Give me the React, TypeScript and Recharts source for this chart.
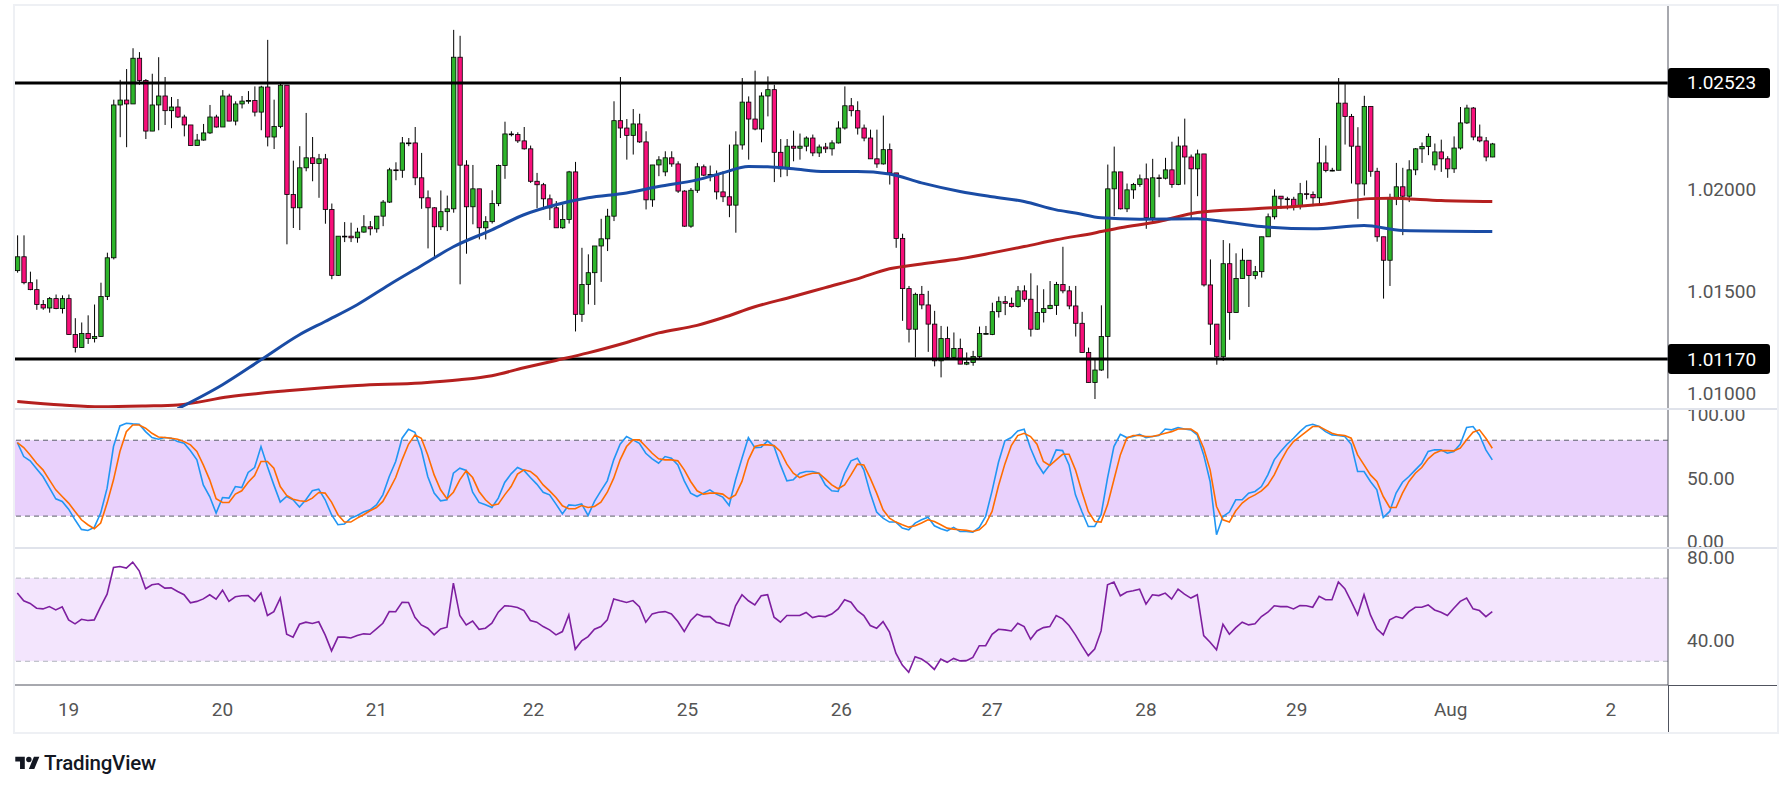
import React from 'react'
import {
  ComposedChart,
  Bar,
  Line,
  XAxis,
  YAxis,
  ReferenceLine,
  ReferenceArea,
} from 'recharts'

// hourly candles, [open, high, low, close]
const OHLC: [number, number, number, number][] = [
  [1.01603, 1.01776, 1.01593, 1.01671], [1.01671, 1.01776, 1.01536, 1.01544], [1.01544, 1.01598, 1.01507, 1.0151],
  [1.0151, 1.0156, 1.01411, 1.01437], [1.01437, 1.01459, 1.01411, 1.0142], [1.0142, 1.01474, 1.01397, 1.01466],
  [1.01466, 1.01486, 1.01414, 1.01417], [1.01417, 1.01482, 1.01393, 1.01466], [1.01466, 1.01486, 1.0129, 1.0129],
  [1.0129, 1.0137, 1.01202, 1.01226], [1.01226, 1.01349, 1.01225, 1.01295], [1.01295, 1.01384, 1.01244, 1.0127],
  [1.0127, 1.01437, 1.01251, 1.0128], [1.0128, 1.01544, 1.0128, 1.01476], [1.01476, 1.01691, 1.01459, 1.01666],
  [1.01666, 1.02441, 1.01658, 1.02415], [1.02415, 1.02538, 1.02257, 1.02439], [1.02439, 1.02591, 1.02208, 1.0242],
  [1.0242, 1.02693, 1.0242, 1.02644], [1.02644, 1.02674, 1.02514, 1.02535], [1.02535, 1.02542, 1.02248, 1.02287],
  [1.02287, 1.02568, 1.02287, 1.02415], [1.02415, 1.02649, 1.02291, 1.02459], [1.02459, 1.02552, 1.02317, 1.02387],
  [1.02387, 1.02454, 1.02301, 1.02405], [1.02405, 1.02444, 1.02351, 1.02356], [1.02356, 1.02367, 1.02261, 1.02317],
  [1.02317, 1.02317, 1.02216, 1.02216], [1.02216, 1.02273, 1.02216, 1.02243], [1.02243, 1.02322, 1.0224, 1.02278],
  [1.02278, 1.02415, 1.02273, 1.02356], [1.02356, 1.02367, 1.02304, 1.02307], [1.02307, 1.02488, 1.02307, 1.02459],
  [1.02459, 1.0247, 1.02336, 1.02336], [1.02336, 1.02433, 1.02315, 1.0242], [1.0242, 1.02459, 1.02398, 1.02434],
  [1.02434, 1.02483, 1.02421, 1.02437], [1.02437, 1.02506, 1.02359, 1.0238], [1.0238, 1.02509, 1.02291, 1.02503],
  [1.02503, 1.02734, 1.02212, 1.02258], [1.02258, 1.02441, 1.02199, 1.0231], [1.0231, 1.02522, 1.02301, 1.02512],
  [1.02512, 1.02512, 1.01732, 1.01976], [1.01976, 1.02142, 1.01812, 1.01911], [1.01911, 1.02213, 1.01802, 1.02107],
  [1.02107, 1.02376, 1.0209, 1.02156], [1.02156, 1.02258, 1.02041, 1.02128], [1.02128, 1.02175, 1.0196, 1.02151],
  [1.02151, 1.02175, 1.01833, 1.01903], [1.01903, 1.01932, 1.01561, 1.0158], [1.0158, 1.01772, 1.01577, 1.01772],
  [1.01772, 1.01841, 1.01743, 1.01772], [1.01772, 1.01838, 1.01743, 1.01764], [1.01764, 1.01813, 1.0174, 1.01792],
  [1.01792, 1.01875, 1.01789, 1.01818], [1.01818, 1.01846, 1.01776, 1.01808], [1.01808, 1.0187, 1.01789, 1.0187],
  [1.0187, 1.01949, 1.01821, 1.01939], [1.01939, 1.02107, 1.01935, 1.02097], [1.02097, 1.02134, 1.02046, 1.02095],
  [1.02095, 1.02258, 1.02058, 1.02229], [1.02229, 1.02253, 1.02213, 1.02229], [1.02229, 1.02307, 1.02022, 1.02058],
  [1.02058, 1.0218, 1.01906, 1.0196], [1.0196, 1.01996, 1.01712, 1.01911], [1.01911, 1.01914, 1.01667, 1.01818],
  [1.01818, 1.01996, 1.01802, 1.01892], [1.01892, 1.01971, 1.01797, 1.01906], [1.01906, 1.02783, 1.01887, 1.02649],
  [1.02649, 1.02754, 1.01536, 1.0212], [1.0212, 1.02144, 1.01686, 1.01916], [1.01916, 1.02121, 1.0183, 1.02004],
  [1.02004, 1.02004, 1.01756, 1.01813], [1.01813, 1.0187, 1.01756, 1.01843], [1.01843, 1.01997, 1.01834, 1.01932],
  [1.01932, 1.02123, 1.01919, 1.02118], [1.02118, 1.02333, 1.02053, 1.02273], [1.02273, 1.02286, 1.02261, 1.0227],
  [1.0227, 1.02281, 1.02229, 1.02239], [1.02239, 1.02307, 1.02196, 1.022], [1.022, 1.02216, 1.02033, 1.02041],
  [1.02041, 1.02082, 1.01909, 1.02024], [1.02024, 1.02033, 1.01903, 1.01955], [1.01955, 1.01976, 1.01851, 1.01911],
  [1.01911, 1.01944, 1.01813, 1.01813], [1.01813, 1.01927, 1.01808, 1.01854], [1.01854, 1.02092, 1.01834, 1.02087],
  [1.02087, 1.02136, 1.01305, 1.01389], [1.01389, 1.01715, 1.01352, 1.01535], [1.01535, 1.01683, 1.01438, 1.01593],
  [1.01593, 1.01724, 1.01435, 1.01724], [1.01724, 1.01857, 1.01548, 1.01759], [1.01759, 1.01906, 1.01699, 1.0187],
  [1.0187, 1.02433, 1.01846, 1.02338], [1.02338, 1.02552, 1.02253, 1.02302], [1.02302, 1.02346, 1.02147, 1.02266],
  [1.02266, 1.02395, 1.02172, 1.02322], [1.02322, 1.02372, 1.02229, 1.02234], [1.02234, 1.02286, 1.01903, 1.0195],
  [1.0195, 1.02121, 1.01916, 1.02121], [1.02121, 1.02164, 1.02066, 1.02146], [1.02087, 1.02188, 1.02066, 1.02156],
  [1.02156, 1.02188, 1.02112, 1.02126], [1.02126, 1.02139, 1.01984, 1.01993], [1.01993, 1.01997, 1.01818, 1.01821],
  [1.01821, 1.02008, 1.01813, 1.01997], [1.01997, 1.02131, 1.01984, 1.02112], [1.02112, 1.02123, 1.02066, 1.02071],
  [1.02071, 1.02118, 1.02041, 1.02074], [1.02074, 1.02094, 1.01952, 1.01989], [1.01989, 1.0209, 1.01939, 1.01965],
  [1.01965, 1.02221, 1.01865, 1.01924], [1.01924, 1.02286, 1.01789, 1.02219], [1.02219, 1.02547, 1.02196, 1.02429],
  [1.02429, 1.02457, 1.02147, 1.02346], [1.02346, 1.02583, 1.02291, 1.02297], [1.02297, 1.02477, 1.02232, 1.02459],
  [1.02459, 1.02555, 1.02359, 1.0249], [1.0249, 1.02514, 1.02037, 1.02183], [1.02183, 1.02248, 1.02061, 1.02102],
  [1.02102, 1.02248, 1.02066, 1.02213], [1.02213, 1.02289, 1.02139, 1.02203], [1.02203, 1.02275, 1.02147, 1.02213],
  [1.02213, 1.02261, 1.02188, 1.02253], [1.02253, 1.0227, 1.02164, 1.0218], [1.0218, 1.02221, 1.0216, 1.02209],
  [1.02209, 1.02229, 1.0218, 1.022], [1.022, 1.02242, 1.02167, 1.02229], [1.02229, 1.02335, 1.02226, 1.02302],
  [1.02302, 1.02506, 1.02294, 1.02411], [1.02411, 1.02449, 1.02359, 1.02387], [1.02387, 1.02433, 1.0227, 1.02302],
  [1.02302, 1.02319, 1.02237, 1.02253], [1.02253, 1.02294, 1.02151, 1.02151], [1.02151, 1.02294, 1.02107, 1.02126],
  [1.02126, 1.02363, 1.02123, 1.02196], [1.02196, 1.02226, 1.02025, 1.02082], [1.02082, 1.02082, 1.01715, 1.01761],
  [1.01761, 1.01784, 1.01357, 1.01515], [1.01515, 1.01528, 1.01251, 1.01316], [1.01316, 1.01495, 1.01178, 1.01487],
  [1.01487, 1.01528, 1.01414, 1.01435], [1.01435, 1.01504, 1.01205, 1.01341], [1.01341, 1.01406, 1.01134, 1.01161],
  [1.01161, 1.01332, 1.0108, 1.0127], [1.0127, 1.01329, 1.01173, 1.01178], [1.01178, 1.013, 1.01173, 1.01222],
  [1.01222, 1.0127, 1.01145, 1.01145], [1.01145, 1.01202, 1.0114, 1.01153], [1.01153, 1.0121, 1.01137, 1.01182],
  [1.01182, 1.01329, 1.01173, 1.01295], [1.01295, 1.01332, 1.0129, 1.01295], [1.0129, 1.01446, 1.01287, 1.01402],
  [1.01402, 1.01476, 1.01373, 1.01451], [1.01451, 1.01479, 1.01385, 1.01443], [1.01443, 1.01471, 1.01422, 1.01427],
  [1.01427, 1.01528, 1.01422, 1.01504], [1.01504, 1.01531, 1.0145, 1.01463], [1.01463, 1.0159, 1.0128, 1.01316],
  [1.01316, 1.01531, 1.01313, 1.01398], [1.01398, 1.01512, 1.01349, 1.01417], [1.01417, 1.01552, 1.01414, 1.01433],
  [1.01433, 1.01548, 1.01386, 1.01535], [1.01535, 1.0172, 1.01492, 1.01504], [1.01504, 1.01528, 1.01414, 1.0143],
  [1.0143, 1.01528, 1.0128, 1.01345], [1.01345, 1.01401, 1.01202, 1.01202], [1.01202, 1.01226, 1.01055, 1.01055],
  [1.01055, 1.01166, 1.00974, 1.01116], [1.01116, 1.01433, 1.01112, 1.0128], [1.0128, 1.02123, 1.01075, 1.02004],
  [1.02004, 1.02211, 1.0187, 1.02087], [1.02087, 1.02087, 1.01903, 1.01906], [1.01906, 1.0203, 1.0189, 1.01999],
  [1.01999, 1.02033, 1.01955, 1.02025], [1.02025, 1.02074, 1.02014, 1.02053], [1.02053, 1.02128, 1.01808, 1.01862],
  [1.01862, 1.02151, 1.01838, 1.02058], [1.02058, 1.02074, 1.01963, 1.02056], [1.02056, 1.02156, 1.0205, 1.02097],
  [1.02097, 1.02235, 1.02009, 1.02025], [1.02025, 1.0226, 1.02022, 1.02214], [1.02214, 1.02348, 1.02025, 1.0216],
  [1.0216, 1.02172, 1.01857, 1.02102], [1.02102, 1.02196, 1.01968, 1.02175], [1.02175, 1.02175, 1.01525, 1.01533],
  [1.01533, 1.01658, 1.01239, 1.01341], [1.01341, 1.01341, 1.01142, 1.01181], [1.01181, 1.01753, 1.01161, 1.01637],
  [1.01637, 1.01737, 1.01264, 1.01398], [1.01398, 1.01688, 1.01398, 1.01565], [1.01565, 1.01711, 1.01564, 1.01654],
  [1.01654, 1.01654, 1.01425, 1.01579], [1.01579, 1.01626, 1.01561, 1.01598], [1.01598, 1.01769, 1.01569, 1.01769],
  [1.01769, 1.01883, 1.01769, 1.01867], [1.01867, 1.02001, 1.01854, 1.01968], [1.01968, 1.01968, 1.01906, 1.01955],
  [1.01955, 1.01965, 1.01903, 1.01953], [1.01953, 1.01965, 1.01898, 1.01918], [1.01918, 1.02033, 1.01903, 1.0198],
  [1.0198, 1.02045, 1.01952, 1.01976], [1.01976, 1.01991, 1.01919, 1.0196], [1.0196, 1.02253, 1.01922, 1.02131],
  [1.02131, 1.02216, 1.02085, 1.02094], [1.02094, 1.02107, 1.0209, 1.02095], [1.02095, 1.02547, 1.02095, 1.02424],
  [1.02424, 1.02517, 1.02221, 1.02359], [1.02359, 1.02371, 1.0203, 1.02213], [1.02213, 1.02306, 1.01857, 1.02028],
  [1.02028, 1.0246, 1.01971, 1.02408], [1.02408, 1.02408, 1.02063, 1.0209], [1.0209, 1.02107, 1.01745, 1.01769],
  [1.01769, 1.01769, 1.01466, 1.01654], [1.01654, 1.0198, 1.01528, 1.01955], [1.01955, 1.02131, 1.01924, 1.02014],
  [1.02014, 1.02107, 1.01777, 1.01968], [1.01968, 1.02144, 1.01939, 1.02097], [1.02097, 1.02204, 1.02071, 1.022],
  [1.022, 1.02231, 1.02131, 1.02211], [1.02211, 1.02275, 1.02169, 1.02261], [1.02121, 1.02226, 1.02095, 1.02185],
  [1.02185, 1.02245, 1.02087, 1.02151], [1.02151, 1.02164, 1.02058, 1.02102], [1.02102, 1.02261, 1.02082, 1.02204],
  [1.02204, 1.02405, 1.02196, 1.02327], [1.02327, 1.02416, 1.02322, 1.024], [1.024, 1.02405, 1.02242, 1.02258],
  [1.02258, 1.02319, 1.02232, 1.02239], [1.02239, 1.02258, 1.02139, 1.0216], [1.0216, 1.02229, 1.02159, 1.02224],
]

// moving averages, read as [candle index, value]
const MA_BLUE: [number, number][] = [
  [25, 1.00926], [32, 1.01044], [38, 1.01166], [44, 1.01289], [48, 1.01354], [53, 1.01436], [58, 1.01534],
  [63, 1.01627], [68, 1.0172], [74, 1.01803], [79, 1.01877], [84, 1.01926], [89, 1.0196], [95, 1.01984],
  [100, 1.02015], [106, 1.02048], [110, 1.02082], [114, 1.02113], [117, 1.02112], [121, 1.02102], [126, 1.02089],
  [131, 1.02089], [136, 1.02077], [141, 1.02033], [147, 1.01991], [152, 1.01965], [157, 1.01942], [162, 1.01901],
  [165, 1.01886], [169, 1.01862], [175, 1.01855], [184, 1.01857], [188, 1.01844], [194, 1.01819], [202, 1.01808],
  [210, 1.01824], [216, 1.018], [230, 1.01795],
]
const MA_RED: [number, number][] = [
  [0, 1.00962], [7, 1.00945], [13, 1.00936], [20, 1.0094], [25, 1.00945], [33, 1.00985], [42, 1.01014],
  [53, 1.0104], [63, 1.01053], [69, 1.01068], [74, 1.01088], [79, 1.01127], [84, 1.01163], [89, 1.012],
  [95, 1.01251], [100, 1.01298], [106, 1.01335], [110, 1.01372], [115, 1.01426], [121, 1.01476], [126, 1.0152],
  [131, 1.01563], [136, 1.01612], [141, 1.01636], [147, 1.01661], [152, 1.0169], [157, 1.01721], [162, 1.01754],
  [168, 1.01788], [172, 1.01813], [178, 1.01844], [184, 1.01888], [193, 1.01906], [204, 1.0193], [211, 1.01956],
  [214, 1.01958], [222, 1.01947], [230, 1.01942],
]

const STOCH_K = [
  78.2, 67.1, 63.7, 57.4, 51.3, 42.6, 33.7, 31.6, 25.5, 17.1, 9.5, 8.7, 11.1, 22.4, 42.1, 75, 91.3, 93.4, 92.9, 92.6,
  86.8, 82.1, 80.8, 82.1, 81.6, 78.9, 77.6, 71.6, 64.5, 44.7, 35.5, 22.4, 34.7, 34.2, 43.4, 42.6, 54.5, 58.4, 75, 59.2,
  44.7, 31.1, 35.5, 32.9, 27.1, 32.9, 40, 41.3, 32.9, 21.1, 13.2, 13.7, 18.4, 20.5, 23.2, 25, 28.9, 36.8, 51.3, 63.2,
  81.6, 88.7, 86.3, 72.4, 51.3, 38.2, 32.1, 32.9, 53.9, 57.9, 56.1, 38.9, 30.8, 28.9, 26.8, 34.2, 46.6, 53.4, 58.4, 56.1,
  50.5, 45.3, 38.9, 36.8, 29.5, 21.8, 28.9, 28.4, 29.7, 20.5, 31.6, 40, 47.9, 64.5, 76.8, 82.9, 80.3, 77.6, 69.7, 65.3,
  61.8, 67.1, 65.8, 60.5, 47.9, 38.2, 35.5, 38.2, 40.8, 37.4, 35, 28.4, 48.7, 65.8, 82.1, 74.2, 74.5, 79.5, 75, 60.5,
  47.9, 48.7, 53.9, 55.3, 55.3, 53.9, 44.7, 40, 39.5, 53.9, 63.7, 65.8, 56.6, 38.2, 23.2, 18.4, 15.3, 15.3, 10.5, 9.2,
  14.5, 17.1, 19.2, 12.4, 10, 8.4, 11.1, 7.9, 7.9, 7.4, 11.1, 19.7, 40, 62.6, 79.5, 82.1, 87.4, 88.7, 73.7, 61.8,
  53.9, 60.5, 72.4, 71.8, 60.5, 36.8, 23.7, 11.8, 11.8, 21.1, 50, 75, 84.7, 82.1, 82.9, 84.7, 82.1, 82.9, 83.7, 88.9,
  88.2, 90, 88.9, 88.2, 84.2, 68.4, 47.4, 5.3, 19.7, 23.2, 32.9, 32.9, 38.2, 39.5, 43.4, 52.6, 64.5, 71.1, 76.8, 81.6,
  86.8, 91.3, 92.6, 90.8, 86.8, 84.2, 83.7, 82.9, 76.8, 55.3, 55.3, 47.4, 40.8, 18.9, 23.7, 38.2, 46.8, 51.3, 56.6, 61.8,
  71.1, 72.4, 72.4, 69.7, 71.1, 76.8, 90, 90.8, 84.2, 72.4, 64.5,
]
const STOCH_D = [
  78.2, 74.2, 68.4, 61.8, 56.6, 48.7, 40.8, 35.5, 30.3, 23.7, 17.1, 13.2, 10, 14.5, 30.3, 48.7, 71.1, 86.8, 92.1, 92.1,
  89.5, 85.5, 82.6, 82.1, 81.6, 80.8, 78.9, 76.3, 71.1, 60.5, 48.7, 33.7, 30.8, 30.8, 37.4, 40, 46.8, 52.1, 63.2, 63.2,
  57.9, 43.4, 36.3, 33.4, 32.1, 31.6, 34.2, 38.7, 38.2, 31.1, 21.1, 15.3, 15.3, 18.4, 21.1, 24.2, 26.8, 31.6, 40.8, 50.5,
  64.5, 76.8, 84.2, 81.6, 68.4, 52.6, 40.8, 33.7, 38.9, 48.7, 55.8, 50.5, 39.5, 32.9, 28.4, 29.5, 36.8, 43.4, 53.2, 56.6,
  55.3, 51.3, 44.7, 40, 34.7, 28.2, 25.8, 25.8, 28.4, 26.8, 27.6, 31.1, 38.9, 50, 64.5, 75, 80.3, 80.3, 75, 69.7,
  65.3, 64.5, 64.5, 63.7, 56.6, 47.4, 40, 37.4, 38.2, 38.2, 37.4, 33.7, 36.8, 47.4, 64.5, 75, 76.3, 76.3, 75.8, 71.1,
  61.1, 53.9, 50.5, 52.6, 53.9, 53.9, 49.5, 44.7, 41.6, 44.7, 52.6, 61.1, 60.5, 50, 38.2, 25, 18.4, 15.3, 13.2, 11.3,
  12.4, 14.5, 17.1, 15.8, 13.2, 10.5, 9.7, 9.2, 8.7, 7.9, 9.2, 13.7, 23.7, 44, 61.3, 75.8, 83.7, 85.5, 82.9, 76.8,
  63.2, 60, 64.5, 68.9, 68.9, 56.6, 39.5, 23.7, 15.8, 15.3, 28.9, 48.7, 68.4, 81.6, 83.7, 83.7, 82.9, 82.9, 84.2, 85.5,
  86.8, 88.9, 88.9, 88.9, 85.5, 73.7, 56.6, 27.6, 17.1, 15.3, 24.2, 30.3, 34.2, 36.8, 40, 44.7, 52.6, 63.2, 72.4, 79,
  82.9, 86.8, 90.8, 90.8, 88.2, 85.5, 84.2, 83.7, 81.6, 68.4, 60.5, 52.6, 47.4, 35.5, 26.8, 26.8, 38.2, 47.4, 53.9, 58.4,
  65.3, 69.7, 71.8, 71.8, 71.6, 73.7, 80.3, 86.3, 88.2, 81.6, 73.7,
]
const RSI = [
  62.8, 59.1, 57.8, 55.5, 55.2, 56.3, 54.7, 56.2, 49.9, 48, 50.2, 49.6, 49.9, 56.3, 62.3, 75.1, 75.6, 74.8, 77.7, 73.5,
  64.9, 66.8, 67.3, 65.2, 65.3, 63.6, 62, 58.1, 58.8, 60, 62, 59.9, 64.2, 58.8, 61, 61.5, 61.6, 58.8, 62.8, 52,
  53.9, 60.4, 43, 41.6, 47.8, 48.8, 48.2, 49, 42.7, 35, 41.6, 41.6, 41.2, 42.4, 43.2, 43, 45.6, 48.3, 53.9, 53.8,
  58.4, 58.3, 51.2, 47.5, 45.9, 42.7, 45.6, 46.4, 67.6, 52, 47.5, 49.4, 45.4, 45.9, 48.3, 53.6, 56.7, 56.5, 55.9, 54.4,
  49.6, 48.8, 46.7, 45.1, 42.7, 44.3, 52.3, 35.8, 39.8, 41.9, 45.4, 46.7, 49.9, 60, 59.1, 58.3, 59.2, 56.3, 48.8, 52.8,
  53.6, 53.9, 52.8, 49.1, 44.3, 49.6, 52.7, 51.5, 51.5, 48.8, 48, 47, 56.7, 62, 59.1, 57.1, 61.5, 62, 51.2, 48.8,
  52, 52, 52, 53.5, 51, 51.8, 51.5, 52.7, 55.2, 59.6, 58.4, 54.3, 52, 47.2, 45.9, 49.1, 44, 33.9, 28.2, 24.7,
  32.2, 31.1, 29, 26.1, 31.1, 29.5, 31.4, 30.2, 30.3, 31.9, 37.5, 37.5, 43, 45.4, 45.1, 44.6, 48.3, 46.7, 40.6, 44.6,
  46.2, 46.7, 52, 50.4, 47.2, 42.7, 37.5, 32.7, 35.9, 44.6, 66.8, 68.1, 61.5, 63.3, 63.9, 64.7, 57.5, 62, 61.6, 62.8,
  59.9, 64.7, 62.3, 60.4, 62, 42.4, 39.2, 35.5, 47.8, 43, 46.2, 48.8, 47.5, 48, 51.5, 53.6, 56.7, 56.3, 56.3, 55.2,
  56.8, 56.7, 56, 61.2, 59.6, 59.6, 68.1, 64.9, 58.8, 52.3, 62, 52.3, 45.6, 42.7, 49.9, 51.5, 50.7, 53.9, 56, 56,
  57.1, 54.7, 53.6, 52, 55.5, 58.8, 60.4, 55.2, 54.4, 51.5, 53.9,
]

const DAY_TICKS = [8, 32, 56, 80.5, 104.5, 128.5, 152, 176, 199.5, 223.5, 248.5]
const DAY_LABELS = ['19', '20', '21', '22', '25', '26', '27', '28', '29', 'Aug', '2']
const RESISTANCE = 1.02523
const SUPPORT = 1.0117
const PRICE_TICKS = [1.01, 1.015, 1.02]

const GREEN = '#2eb52b'
const PINK = '#f7107a'
const FONT = 'Roboto, "Open Sans", sans-serif'
const X_DOMAIN: [number, number] = [-0.36, 257.4]
const CHART_W = 1762
const AXIS_W = 109

const blueAt = new Map(MA_BLUE)
const redAt = new Map(MA_RED)
const rows = OHLC.map(([o, h, l, c], i) => ({
  i,
  o,
  h,
  l,
  c,
  range: [l, h],
  blue: blueAt.has(i) ? blueAt.get(i) : null,
  red: redAt.has(i) ? redAt.get(i) : null,
  k: STOCH_K[i],
  d: STOCH_D[i],
  rsi: RSI[i],
}))

const Candle = (props: any) => {
  const { x, y, width, height, payload } = props
  if (!payload || x == null || y == null) return null
  const { o, h, l, c } = payload
  const top = Math.min(y, y + height)
  const bot = Math.max(y, y + height)
  const span = h - l || 1e-9
  const py = (v: number) => top + ((h - v) / span) * (bot - top)
  const cx = x + width / 2
  const bTop = py(Math.max(o, c))
  const bBot = py(Math.min(o, c))
  return (
    <g>
      <line x1={cx} x2={cx} y1={top} y2={bot} stroke="#000" strokeWidth={1} />
      <rect
        x={cx - 2.2}
        y={bTop}
        width={4.4}
        height={Math.max(bBot - bTop, 0.8)}
        fill={c >= o ? GREEN : PINK}
        stroke="#000"
        strokeWidth={0.8}
      />
    </g>
  )
}

const PriceTick = (props: any) => {
  const { x, y, payload } = props
  const v = payload.value
  const boxed = v === RESISTANCE || v === SUPPORT
  return (
    <g>
      {boxed && <rect x={x} y={y - 15} width={102} height={30} rx={3} fill="#000" />}
      <text
        x={x + 19}
        y={y}
        dominantBaseline="central"
        fontFamily={FONT}
        fontSize={19}
        fill={boxed ? '#fff' : '#555'}
      >
        {v.toFixed(5)}
      </text>
    </g>
  )
}

const OscTick = (props: any) => {
  const { x, y, payload } = props
  return (
    <text x={x + 19} y={y} dominantBaseline="central" fontFamily={FONT} fontSize={19} fill="#555">
      {payload.value.toFixed(2)}
    </text>
  )
}

const DayTick = (props: any) => {
  const { x, y, payload } = props
  const idx = DAY_TICKS.indexOf(payload.value)
  return (
    <text x={x} y={y + 24} textAnchor="middle" dominantBaseline="central" fontFamily={FONT} fontSize={19} fill="#555">
      {DAY_LABELS[idx]}
    </text>
  )
}

const TVLogo = () => (
  <svg width={25} height={19} viewBox="0 0 36 28" style={{ position: 'absolute', left: 15, top: 754 }}>
    <path d="M14 22H7V11H0V4h14v18zM28 22h-8l7.5-18h8L28 22z" fill="#131722" />
    <circle cx={20} cy={8} r={4} fill="#131722" />
  </svg>
)

const line = (left: number, top: number, width: number, height: number, color: string) => (
  <div style={{ position: 'absolute', left, top, width, height, background: color }} />
)

export default function App() {
  return (
    <div style={{ position: 'absolute', left: 0, top: 0, width: 1791, height: 786, background: '#fff', fontFamily: FONT }}>
      <div
        style={{
          position: 'absolute',
          left: 13,
          top: 4,
          width: 1762,
          height: 726,
          border: '2px solid #eef0f4',
        }}
      />
      {/* price pane */}
      <div style={{ position: 'absolute', left: 15, top: 6 }}>
        <ComposedChart width={CHART_W} height={403} data={rows} margin={{ top: 0, right: 0, bottom: 0, left: 0 }}>
          <XAxis dataKey="i" type="number" domain={X_DOMAIN} allowDataOverflow hide />
          <YAxis
            orientation="right"
            width={AXIS_W}
            domain={[1.00925, 1.029]}
            allowDataOverflow
            ticks={[...PRICE_TICKS, SUPPORT, RESISTANCE]}
            interval={0}
            tickLine={false}
            tickSize={0}
            tickMargin={0}
            axisLine={{ stroke: '#50535e' }}
            tick={<PriceTick />}
          />
          <ReferenceLine y={RESISTANCE} stroke="#000" strokeWidth={3} />
          <ReferenceLine y={SUPPORT} stroke="#000" strokeWidth={3} />
          <Bar dataKey="range" barSize={5} shape={<Candle />} isAnimationActive={false} />
          <Line
            dataKey="red"
            type="monotone"
            stroke="#b5201f"
            strokeWidth={3}
            dot={false}
            connectNulls
            isAnimationActive={false}
          />
          <Line
            dataKey="blue"
            type="monotone"
            stroke="#1a4ca5"
            strokeWidth={3}
            dot={false}
            connectNulls
            isAnimationActive={false}
          />
        </ComposedChart>
      </div>
      {line(15, 408, 1762, 2, '#e0e3eb')}
      {/* stochastic pane */}
      <div style={{ position: 'absolute', left: 15, top: 410 }}>
        <ComposedChart width={CHART_W} height={138} data={rows} margin={{ top: 0, right: 0, bottom: 0, left: 0 }}>
          <XAxis dataKey="i" type="number" domain={X_DOMAIN} allowDataOverflow hide />
          <YAxis
            orientation="right"
            width={AXIS_W}
            domain={[-5.2, 103.9]}
            allowDataOverflow
            ticks={[0, 50, 100]}
            interval={0}
            tickLine={false}
            tickSize={0}
            tickMargin={0}
            axisLine={{ stroke: '#50535e' }}
            tick={<OscTick />}
          />
          <ReferenceArea y1={20} y2={80} fill="#e9d1fc" fillOpacity={1} stroke="none" />
          <ReferenceLine y={80} stroke="#5d606b" strokeDasharray="5 4" />
          <ReferenceLine y={20} stroke="#5d606b" strokeDasharray="5 4" />
          <Line dataKey="k" type="linear" stroke="#2196f3" strokeWidth={1.6} dot={false} isAnimationActive={false} />
          <Line dataKey="d" type="linear" stroke="#ff6d00" strokeWidth={1.6} dot={false} isAnimationActive={false} />
        </ComposedChart>
      </div>
      {line(15, 547, 1762, 2, '#e0e3eb')}
      {/* RSI pane with the date axis */}
      <div style={{ position: 'absolute', left: 15, top: 549 }}>
        <ComposedChart width={CHART_W} height={183} data={rows} margin={{ top: 0, right: 0, bottom: 0, left: 0 }}>
          <XAxis
            dataKey="i"
            type="number"
            domain={X_DOMAIN}
            allowDataOverflow
            ticks={DAY_TICKS}
            interval={0}
            height={47}
            tickLine={false}
            tickSize={0}
            tickMargin={0}
            axisLine={{ stroke: '#50535e' }}
            tick={<DayTick />}
          />
          <YAxis
            orientation="right"
            width={AXIS_W}
            domain={[18.6, 84.0]}
            allowDataOverflow
            ticks={[40, 80]}
            interval={0}
            tickLine={false}
            tickSize={0}
            tickMargin={0}
            axisLine={{ stroke: '#50535e' }}
            tick={<OscTick />}
          />
          <ReferenceArea y1={30} y2={70} fill="#f3e5fd" fillOpacity={1} stroke="none" />
          <ReferenceLine y={70} stroke="#b2b5be" strokeDasharray="5 4" />
          <ReferenceLine y={30} stroke="#b2b5be" strokeDasharray="5 4" />
          <Line dataKey="rsi" type="linear" stroke="#7e1fa0" strokeWidth={1.6} dot={false} isAnimationActive={false} />
        </ComposedChart>
      </div>
      {line(1668, 685, 109, 1, '#50535e')}
      {line(1668, 685, 1, 47, '#50535e')}
      <TVLogo />
      <div
        style={{
          position: 'absolute',
          left: 44,
          top: 751,
          fontSize: 20.5,
          fontWeight: 500,
          color: '#131722',
          lineHeight: '24px',
          letterSpacing: -0.2,
        }}
      >
        TradingView
      </div>
    </div>
  )
}
